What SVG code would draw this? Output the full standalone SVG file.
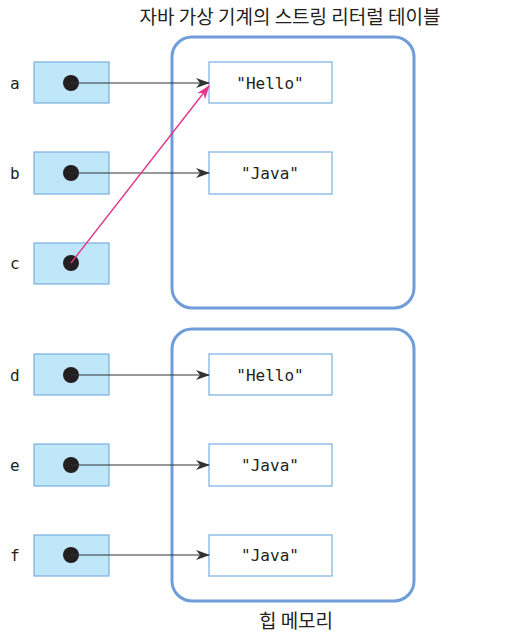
<svg xmlns="http://www.w3.org/2000/svg" width="508" height="636" viewBox="0 0 508 636">
<style>
.var{fill:#bfe6f9;stroke:#7aaedf;stroke-width:1.2}
.str{fill:#fff;stroke:#7aaedf;stroke-width:1.2}
.area{fill:none;stroke:#6e9dd9;stroke-width:3}
.dot{fill:#231f20}
.lbl{font-family:"DejaVu Sans Mono","Liberation Mono",monospace;font-size:16px;fill:#231f20}
.s{font-family:"DejaVu Sans Mono","Liberation Mono",monospace;font-size:16px;fill:#231f20;text-anchor:middle}
.k{font-family:"Noto Sans CJK KR","Noto Sans",sans-serif;font-size:19px;fill:#231f20;text-anchor:middle}
.ln{stroke:#333;stroke-width:1.2;fill:none}
.pk{stroke:#e6338c;stroke-width:1.4;fill:none}
</style>
<defs>
<marker id="ah" markerWidth="14" markerHeight="10" refX="13" refY="5" orient="auto" markerUnits="userSpaceOnUse"><path d="M0,0 L14,5 L0,10 L4,5 Z" fill="#333"/></marker>
<marker id="ahp" markerWidth="14" markerHeight="10" refX="13" refY="5" orient="auto" markerUnits="userSpaceOnUse"><path d="M0,0 L14,5 L0,10 L4,5 Z" fill="#e6338c"/></marker>
</defs>
<text class="k" x="290" y="24">자바 가상 기계의 스트링 리터럴 테이블</text>
<text class="k" x="296" y="628">힙 메모리</text>
<g id="jvm-table"><rect class="area" x="172" y="37" width="242" height="271" rx="20"/></g>
<g id="heap"><rect class="area" x="172" y="329" width="242" height="272" rx="20"/></g>
<g id="var-a"><text class="lbl" x="10" y="89">a</text><rect class="var" x="34" y="62" width="75" height="41"/><circle class="dot" cx="71" cy="83" r="8"/></g>
<g id="var-b"><text class="lbl" x="10" y="179">b</text><rect class="var" x="34" y="152" width="75" height="42"/><circle class="dot" cx="71" cy="173" r="8"/></g>
<g id="var-c"><text class="lbl" x="10" y="269">c</text><rect class="var" x="34" y="243" width="75" height="41"/><circle class="dot" cx="71" cy="263" r="8"/></g>
<g id="var-d"><text class="lbl" x="10" y="381">d</text><rect class="var" x="34" y="354" width="75" height="41"/><circle class="dot" cx="71" cy="375" r="8"/></g>
<g id="var-e"><text class="lbl" x="10" y="471">e</text><rect class="var" x="34" y="444" width="75" height="42"/><circle class="dot" cx="71" cy="465" r="8"/></g>
<g id="var-f"><text class="lbl" x="10" y="561">f</text><rect class="var" x="34" y="535" width="75" height="41"/><circle class="dot" cx="71" cy="555" r="8"/></g>
<g id="str-hello1"><rect class="str" x="209" y="62" width="123" height="41"/><text class="s" x="270" y="89">"Hello"</text></g>
<g id="str-java1"><rect class="str" x="209" y="152" width="123" height="42"/><text class="s" x="270" y="179">"Java"</text></g>
<g id="str-hello2"><rect class="str" x="209" y="354" width="123" height="41"/><text class="s" x="270" y="381">"Hello"</text></g>
<g id="str-java2"><rect class="str" x="209" y="444" width="123" height="42"/><text class="s" x="270" y="471">"Java"</text></g>
<g id="str-java3"><rect class="str" x="209" y="535" width="123" height="41"/><text class="s" x="270" y="561">"Java"</text></g>
<g id="connectors">
<line class="ln" x1="71" y1="83" x2="209" y2="83" marker-end="url(#ah)"/>
<line class="ln" x1="71" y1="173" x2="209" y2="173" marker-end="url(#ah)"/>
<line class="pk" x1="71" y1="263" x2="209" y2="86" marker-end="url(#ahp)"/>
<line class="ln" x1="71" y1="375" x2="209" y2="375" marker-end="url(#ah)"/>
<line class="ln" x1="71" y1="465" x2="209" y2="465" marker-end="url(#ah)"/>
<line class="ln" x1="71" y1="555" x2="209" y2="555" marker-end="url(#ah)"/>
</g>
</svg>
